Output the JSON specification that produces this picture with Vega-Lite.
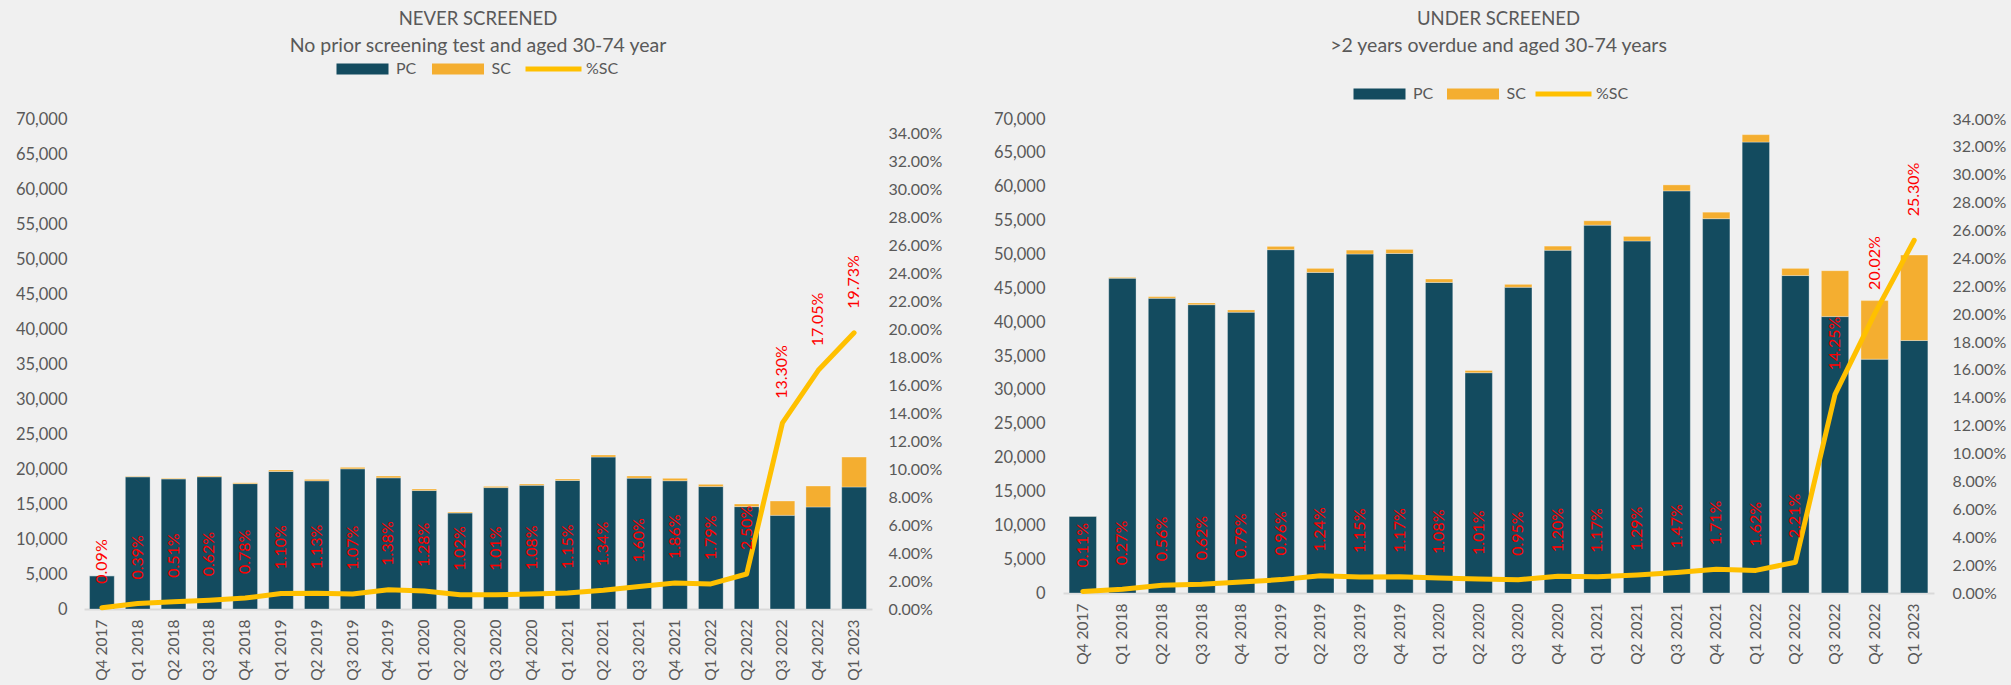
{
  "$schema": "https://vega.github.io/schema/vega-lite/v6.json",
  "autosize": {"type": "none"},
  "padding": {"left": 84, "top": 119, "right": 1927, "bottom": 566},
  "background": "#f0f0f0",
  "datasets": {
    "never": [
      {"q": "Q4 2017", "PC": 4746, "SC": 4, "pct": 0.0009},
      {"q": "Q1 2018", "PC": 18876, "SC": 74, "pct": 0.0039},
      {"q": "Q2 2018", "PC": 18575, "SC": 95, "pct": 0.0051},
      {"q": "Q3 2018", "PC": 18882, "SC": 118, "pct": 0.0062},
      {"q": "Q4 2018", "PC": 17909, "SC": 141, "pct": 0.0078},
      {"q": "Q1 2019", "PC": 19642, "SC": 218, "pct": 0.011},
      {"q": "Q2 2019", "PC": 18311, "SC": 209, "pct": 0.0113},
      {"q": "Q3 2019", "PC": 20023, "SC": 217, "pct": 0.0107},
      {"q": "Q4 2019", "PC": 18738, "SC": 262, "pct": 0.0138},
      {"q": "Q1 2020", "PC": 16921, "SC": 219, "pct": 0.0128},
      {"q": "Q2 2020", "PC": 13709, "SC": 141, "pct": 0.0102},
      {"q": "Q3 2020", "PC": 17343, "SC": 177, "pct": 0.0101},
      {"q": "Q4 2020", "PC": 17667, "SC": 193, "pct": 0.0108},
      {"q": "Q1 2021", "PC": 18356, "SC": 214, "pct": 0.0115},
      {"q": "Q2 2021", "PC": 21705, "SC": 295, "pct": 0.0134},
      {"q": "Q3 2021", "PC": 18696, "SC": 304, "pct": 0.016},
      {"q": "Q4 2021", "PC": 18323, "SC": 347, "pct": 0.0186},
      {"q": "Q1 2022", "PC": 17491, "SC": 319, "pct": 0.0179},
      {"q": "Q2 2022", "PC": 14625, "SC": 375, "pct": 0.025},
      {"q": "Q3 2022", "PC": 13378, "SC": 2052, "pct": 0.133},
      {"q": "Q4 2022", "PC": 14574, "SC": 2996, "pct": 0.1705},
      {"q": "Q1 2023", "PC": 17427, "SC": 4283, "pct": 0.1973}
    ],
    "under": [
      {"q": "Q4 2017", "PC": 11338, "SC": 12, "pct": 0.0011},
      {"q": "Q1 2018", "PC": 46484, "SC": 126, "pct": 0.0027},
      {"q": "Q2 2018", "PC": 43525, "SC": 245, "pct": 0.0056},
      {"q": "Q3 2018", "PC": 42574, "SC": 266, "pct": 0.0062},
      {"q": "Q4 2018", "PC": 41470, "SC": 330, "pct": 0.0079},
      {"q": "Q1 2019", "PC": 50699, "SC": 491, "pct": 0.0096},
      {"q": "Q2 2019", "PC": 47346, "SC": 594, "pct": 0.0124},
      {"q": "Q3 2019", "PC": 50058, "SC": 582, "pct": 0.0115},
      {"q": "Q4 2019", "PC": 50146, "SC": 594, "pct": 0.0117},
      {"q": "Q1 2020", "PC": 45869, "SC": 501, "pct": 0.0108},
      {"q": "Q2 2020", "PC": 32528, "SC": 332, "pct": 0.0101},
      {"q": "Q3 2020", "PC": 45147, "SC": 433, "pct": 0.0095},
      {"q": "Q4 2020", "PC": 50615, "SC": 615, "pct": 0.012},
      {"q": "Q1 2021", "PC": 54327, "SC": 643, "pct": 0.0117},
      {"q": "Q2 2021", "PC": 51981, "SC": 679, "pct": 0.0129},
      {"q": "Q3 2021", "PC": 59384, "SC": 886, "pct": 0.0147},
      {"q": "Q4 2021", "PC": 55278, "SC": 962, "pct": 0.0171},
      {"q": "Q1 2022", "PC": 66593, "SC": 1097, "pct": 0.0162},
      {"q": "Q2 2022", "PC": 46881, "SC": 1059, "pct": 0.0221},
      {"q": "Q3 2022", "PC": 40817, "SC": 6783, "pct": 0.1425},
      {"q": "Q4 2022", "PC": 34535, "SC": 8645, "pct": 0.2002},
      {"q": "Q1 2023", "PC": 37283, "SC": 12627, "pct": 0.253}
    ]
  },
  "config": {
    "view": {"stroke": null},
    "font": "Lato",
    "axis": {"labelFont": "Lato", "labelColor": "#595959", "grid": false, "ticks": false, "tickSize": 0, "domain": false, "title": null, "labelOverlap": false},
    "axisY": {"labelOverlap": false},
    "axisRight": {"labelOverlap": false},
    "axisQuantitative": {"labelOverlap": false},
    "legend": {"labelFont": "Lato", "labelFontSize": 16, "labelColor": "#595959"},
    "title": {"font": "Lato", "fontSize": 18.5, "fontWeight": "normal", "color": "#595959", "subtitleFont": "Lato", "subtitleFontSize": 19.5, "subtitleColor": "#595959", "subtitlePadding": 8, "anchor": "middle", "frame": "group"}
  },
  "bounds": "flush",
  "spacing": 191,
  "resolve": {"scale": {"color": "independent", "stroke": "independent"}, "legend": {"color": "independent", "stroke": "independent"}},
  "hconcat": [
    {
      "width": 788,
      "height": 490,
      "data": {"name": "never"},
      "title": {"text": "NEVER SCREENED", "subtitle": "No prior screening test and aged 30-74 year", "offset": 6},
      "layer": [
        {
          "transform": [{"fold": ["PC", "SC"], "as": ["type", "count"]}],
          "mark": {"type": "bar", "stroke": "#ffffff", "strokeOpacity": 0.3, "strokeWidth": 1},
          "encoding": {
            "x": {"field": "q", "type": "ordinal", "sort": null, "title": null, "scale": {"paddingInner": 0.31, "paddingOuter": 0.155},
              "axis": {"labelAngle": 270, "labelPadding": 10, "labelFontSize": 15.5, "labelOverlap": false, "domain": true, "domainColor": "#d9d9d9", "domainWidth": 2}},
            "y": {"field": "count", "type": "quantitative", "stack": "zero", "title": null, "scale": {"domain": [0, 70000], "nice": false},
              "axis": {"orient": "left", "values": [0, 5000, 10000, 15000, 20000, 25000, 30000, 35000, 40000, 45000, 50000, 55000, 60000, 65000, 70000], "format": ",d", "labelPadding": 17, "labelFontSize": 16.5}},
            "color": {"field": "type", "type": "nominal", "scale": {"domain": ["PC", "SC"], "range": ["#134b5f", "#f4ae30"]},
              "legend": {"title": null, "orient": "none", "direction": "horizontal", "legendX": 270.5, "legendY": -58, "symbolType": "M-4.727,-1H4.727V1H-4.727Z", "symbolSize": 121, "symbolStrokeWidth": 0, "labelOffset": 25.5, "columnPadding": 15.5}},
            "order": {"field": "type", "type": "nominal", "sort": "ascending"}
          }
        },
        {
          "layer": [
            {
              "mark": {"type": "line", "strokeWidth": 5, "strokeCap": "round", "strokeJoin": "round"},
              "encoding": {
                "x": {"field": "q", "type": "ordinal", "sort": null},
                "y": {"field": "pct", "type": "quantitative", "title": null, "scale": {"domain": [0, 0.35], "nice": false},
                  "axis": {"orient": "right", "values": [0, 0.02, 0.04, 0.06, 0.08, 0.1, 0.12, 0.14, 0.16, 0.18, 0.2, 0.22, 0.24, 0.26, 0.28, 0.3, 0.32, 0.34], "tickCount": 18, "format": ".2%", "labelPadding": 16, "labelFontSize": 16, "labelOverlap": false}},
                "stroke": {"datum": "%SC", "type": "nominal", "scale": {"domain": ["%SC"], "range": ["#ffc000"]},
                  "legend": {"title": null, "orient": "none", "direction": "horizontal", "legendX": 461.5, "legendY": -58, "symbolType": "M-5.6,0H5.6", "symbolSize": 100, "symbolStrokeWidth": 5, "labelOffset": 24.5}}
              }
            },
            {
              "mark": {"type": "text", "angle": 270, "align": "left", "baseline": "middle", "dx": 24, "color": "#ff0000", "font": "Lato", "fontSize": 16},
              "encoding": {
                "x": {"field": "q", "type": "ordinal", "sort": null},
                "y": {"field": "pct", "type": "quantitative", "title": null,
                  "axis": {"orient": "right", "values": [0, 0.02, 0.04, 0.06, 0.08, 0.1, 0.12, 0.14, 0.16, 0.18, 0.2, 0.22, 0.24, 0.26, 0.28, 0.3, 0.32, 0.34], "tickCount": 18, "format": ".2%", "labelPadding": 16, "labelFontSize": 16, "labelOverlap": false}},
                "text": {"field": "pct", "type": "quantitative", "format": ".2%"}
              }
            }
          ]
        }
      ],
      "resolve": {"scale": {"y": "independent"}}
    },
    {
      "width": 871,
      "height": 474,
      "data": {"name": "under"},
      "title": {"text": "UNDER SCREENED", "subtitle": ">2 years overdue and aged 30-74 years", "offset": 31},
      "layer": [
        {
          "transform": [{"fold": ["PC", "SC"], "as": ["type", "count"]}],
          "mark": {"type": "bar", "stroke": "#ffffff", "strokeOpacity": 0.3, "strokeWidth": 1},
          "encoding": {
            "x": {"field": "q", "type": "ordinal", "sort": null, "title": null, "scale": {"paddingInner": 0.31, "paddingOuter": 0.155},
              "axis": {"labelAngle": 270, "labelPadding": 10, "labelFontSize": 15.5, "labelOverlap": false, "domain": true, "domainColor": "#d9d9d9", "domainWidth": 2}},
            "y": {"field": "count", "type": "quantitative", "stack": "zero", "title": null, "scale": {"domain": [0, 70000], "nice": false},
              "axis": {"orient": "left", "values": [0, 5000, 10000, 15000, 20000, 25000, 30000, 35000, 40000, 45000, 50000, 55000, 60000, 65000, 70000], "format": ",d", "labelPadding": 18, "labelFontSize": 16.5}},
            "color": {"field": "type", "type": "nominal", "scale": {"domain": ["PC", "SC"], "range": ["#134b5f", "#f4ae30"]},
              "legend": {"title": null, "orient": "none", "direction": "horizontal", "legendX": 308.5, "legendY": -33, "symbolType": "M-4.727,-1H4.727V1H-4.727Z", "symbolSize": 121, "symbolStrokeWidth": 0, "labelOffset": 25.5, "columnPadding": 13.5}},
            "order": {"field": "type", "type": "nominal", "sort": "ascending"}
          }
        },
        {
          "layer": [
            {
              "mark": {"type": "line", "strokeWidth": 5, "strokeCap": "round", "strokeJoin": "round"},
              "encoding": {
                "x": {"field": "q", "type": "ordinal", "sort": null},
                "y": {"field": "pct", "type": "quantitative", "title": null, "scale": {"domain": [0, 0.34], "nice": false},
                  "axis": {"orient": "right", "values": [0, 0.02, 0.04, 0.06, 0.08, 0.1, 0.12, 0.14, 0.16, 0.18, 0.2, 0.22, 0.24, 0.26, 0.28, 0.3, 0.32, 0.34], "tickCount": 18, "format": ".2%", "labelPadding": 18, "labelFontSize": 16, "labelOverlap": false}},
                "stroke": {"datum": "%SC", "type": "nominal", "scale": {"domain": ["%SC"], "range": ["#ffc000"]},
                  "legend": {"title": null, "orient": "none", "direction": "horizontal", "legendX": 492.5, "legendY": -33, "symbolType": "M-5.6,0H5.6", "symbolSize": 100, "symbolStrokeWidth": 5, "labelOffset": 24.5}}
              }
            },
            {
              "mark": {"type": "text", "angle": 270, "align": "left", "baseline": "middle", "dx": 24, "color": "#ff0000", "font": "Lato", "fontSize": 16},
              "encoding": {
                "x": {"field": "q", "type": "ordinal", "sort": null},
                "y": {"field": "pct", "type": "quantitative", "title": null,
                  "axis": {"orient": "right", "values": [0, 0.02, 0.04, 0.06, 0.08, 0.1, 0.12, 0.14, 0.16, 0.18, 0.2, 0.22, 0.24, 0.26, 0.28, 0.3, 0.32, 0.34], "tickCount": 18, "format": ".2%", "labelPadding": 18, "labelFontSize": 16, "labelOverlap": false}},
                "text": {"field": "pct", "type": "quantitative", "format": ".2%"}
              }
            }
          ]
        }
      ],
      "resolve": {"scale": {"y": "independent"}}
    }
  ]
}
